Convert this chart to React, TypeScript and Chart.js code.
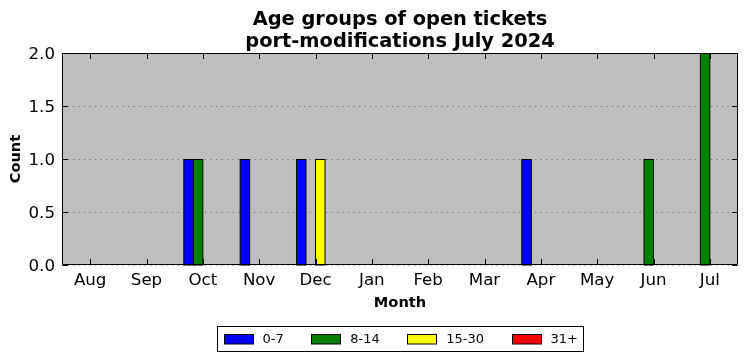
import React, { useEffect, useRef } from "react";
import { Chart, registerables } from "chart.js";

Chart.register(...registerables);

const months = ["Aug", "Sep", "Oct", "Nov", "Dec", "Jan", "Feb", "Mar", "Apr", "May", "Jun", "Jul"];
const age0to7 = [0, 0, 1, 1, 1, 0, 0, 0, 1, 0, 0, 0];
const age8to14 = [0, 0, 1, 0, 0, 0, 0, 0, 0, 0, 1, 2];
const age15to30 = [0, 0, 0, 0, 1, 0, 0, 0, 0, 0, 0, 0];
const age31plus = [0, 0, 0, 0, 0, 0, 0, 0, 0, 0, 0, 0];
const seriesLabels = ["0-7", "8-14", "15-30", "31+"];
const seriesColors = ["#0000ff", "#008000", "#ffff00", "#ff0000"];
const yTicks = [0, 0.5, 1.0, 1.5, 2.0];
const titleLines = ["Age groups of open tickets", "port-modifications July 2024"];

const FONT = "'DejaVu Sans', sans-serif";

const framePlugin = {
  id: "mplFrame",
  beforeDraw(chart: any) {
    const { ctx, chartArea: a } = chart;
    ctx.save();
    ctx.fillStyle = "#bfbfbf";
    ctx.fillRect(a.left, a.top, a.right - a.left, a.bottom - a.top);
    ctx.restore();
  },
  beforeDatasetsDraw(chart: any) {
    const { ctx, chartArea: a } = chart;
    const ys = chart.scales.y;
    ctx.save();
    ctx.strokeStyle = "rgba(0,0,0,0.4)";
    ctx.lineWidth = 1;
    ctx.setLineDash([1.2, 4.3]);
    for (const v of yTicks) {
      const y = Math.round(ys.getPixelForValue(v)) + 0.5;
      ctx.beginPath();
      ctx.moveTo(a.left, y);
      ctx.lineTo(a.right, y);
      ctx.stroke();
    }
    ctx.restore();
  },
  afterDatasetsDraw(chart: any) {
    const { ctx, chartArea: a } = chart;
    const xs = chart.scales.x;
    const ys = chart.scales.y;
    ctx.save();
    ctx.strokeStyle = "#000";
    ctx.lineWidth = 1;
    chart.data.datasets.forEach((d: any, di: number) => {
      const meta = chart.getDatasetMeta(di);
      meta.data.forEach((el: any, j: number) => {
        if (!d.data[j]) return;
        const l = el.x - el.width / 2;
        const r = el.x + el.width / 2;
        const t = Math.min(el.y, el.base);
        const b = Math.max(el.y, el.base);
        ctx.strokeRect(l, t + 0.5, r - l, b - t - 0.5);
      });
    });
    const L = Math.round(a.left) + 0.5;
    const R = Math.round(a.right) - 0.5;
    const T = Math.round(a.top) + 0.5;
    const B = Math.round(a.bottom) - 0.5;
    ctx.setLineDash([]);
    ctx.beginPath();
    ctx.rect(L, T, R - L, B - T);
    ctx.stroke();
    const tl = 5.5;
    ctx.beginPath();
    for (let i = 0; i < months.length; i++) {
      const x = Math.round(xs.getPixelForTick(i)) + 0.5;
      ctx.moveTo(x, B);
      ctx.lineTo(x, B - tl);
      ctx.moveTo(x, T);
      ctx.lineTo(x, T + tl);
    }
    for (const v of yTicks) {
      const y = Math.round(ys.getPixelForValue(v)) + 0.5;
      ctx.moveTo(L, y);
      ctx.lineTo(L + tl, y);
      ctx.moveTo(R, y);
      ctx.lineTo(R - tl, y);
    }
    ctx.stroke();
    ctx.restore();
  },
  afterDraw(chart: any) {
    const { ctx, chartArea: a } = chart;
    const ds = chart.data.datasets;
    ctx.save();
    ctx.font = `13px ${FONT}`;
    const sw = 29;
    const sh = 9.5;
    const gap = 10;
    const itemGap = 27.5;
    const padX = 6;
    const widths = ds.map((d: any) => ctx.measureText(d.label).width);
    let total = 0;
    widths.forEach((w: number, i: number) => {
      total += sw + gap + w + (i < widths.length - 1 ? itemGap : 0);
    });
    const cx = (a.left + a.right) / 2;
    const boxL = Math.round(cx - total / 2 - padX) + 0.5;
    const boxW = Math.round(total + 2 * padX);
    const boxT = 326.5;
    const boxH = 25;
    ctx.fillStyle = "#fff";
    ctx.fillRect(boxL, boxT, boxW, boxH);
    ctx.strokeStyle = "#000";
    ctx.lineWidth = 1;
    ctx.strokeRect(boxL, boxT, boxW, boxH);
    let x = boxL + padX;
    const cy = boxT + boxH / 2;
    ds.forEach((d: any, i: number) => {
      const sx = Math.round(x) + 0.5;
      const sy = Math.round(cy - sh / 2) + 0.5;
      ctx.fillStyle = d.backgroundColor;
      ctx.fillRect(sx, sy, sw, sh);
      ctx.strokeStyle = "#000";
      ctx.strokeRect(sx, sy, sw, sh);
      ctx.fillStyle = "#000";
      ctx.textBaseline = "middle";
      ctx.textAlign = "left";
      ctx.fillText(d.label, x + sw + gap, cy + 0.5);
      x += sw + gap + widths[i] + itemGap;
    });
    ctx.restore();
  },
};

export default function App() {
  const ref = useRef<HTMLCanvasElement | null>(null);

  useEffect(() => {
    document.body.style.margin = "0";
    const canvas = ref.current;
    if (!canvas) return;
    const seriesData = [age0to7, age8to14, age15to30, age31plus];
    const chart = new Chart(canvas, {
      type: "bar",
      data: {
        labels: months,
        datasets: seriesData.map((vals, i) => ({
          label: seriesLabels[i],
          data: vals,
          backgroundColor: seriesColors[i],
          borderWidth: 0,
          inflateAmount: 0,
          categoryPercentage: 0.675,
          barPercentage: 1.0,
        })),
      },
      options: {
        responsive: false,
        animation: false,
        devicePixelRatio: 1,
        layout: { padding: { left: 0, right: 9, top: 0, bottom: 40 } },
        plugins: {
          legend: { display: false },
          tooltip: { enabled: false },
          title: {
            display: true,
            text: titleLines,
            fullSize: false,
            color: "#000",
            font: { family: FONT, size: 19.4, weight: "bold", lineHeight: 1.13 },
            padding: { top: 9, bottom: 0.2 },
          },
        },
        scales: {
          x: {
            type: "category",
            offset: true,
            grid: { display: false, drawTicks: false },
            border: { display: false },
            ticks: {
              color: "#000",
              font: { family: FONT, size: 16.67, lineHeight: 1.2 },
              padding: 6,
              maxRotation: 0,
              autoSkip: false,
            },
            title: {
              display: true,
              text: "Month",
              color: "#000",
              font: { family: FONT, size: 14.6, weight: "bold", lineHeight: 1.2 },
              padding: { top: 0, bottom: 9 },
            },
            afterFit(scale: any) {
              scale.height = 56;
            },
          },
          y: {
            min: 0,
            max: 2,
            grid: { display: false, drawTicks: false },
            border: { display: false },
            ticks: {
              stepSize: 0.5,
              color: "#000",
              font: { family: FONT, size: 16.67, lineHeight: 1.2 },
              padding: 7,
              labelOffset: 1.5,
              callback: (v: any) => Number(v).toFixed(1),
            },
            title: {
              display: true,
              text: "Count",
              color: "#000",
              font: { family: FONT, size: 14.6, weight: "bold", lineHeight: 1.2 },
              padding: { top: 7.3, bottom: 0 },
            },
            afterFit(scale: any) {
              scale.width = 62;
            },
          },
        },
      },
      plugins: [framePlugin],
    } as any);
    return () => chart.destroy();
  }, []);

  return (
    <div style={{ width: 747, height: 361 }}>
      <canvas ref={ref} width={747} height={361} style={{ display: "block" }} />
    </div>
  );
}
